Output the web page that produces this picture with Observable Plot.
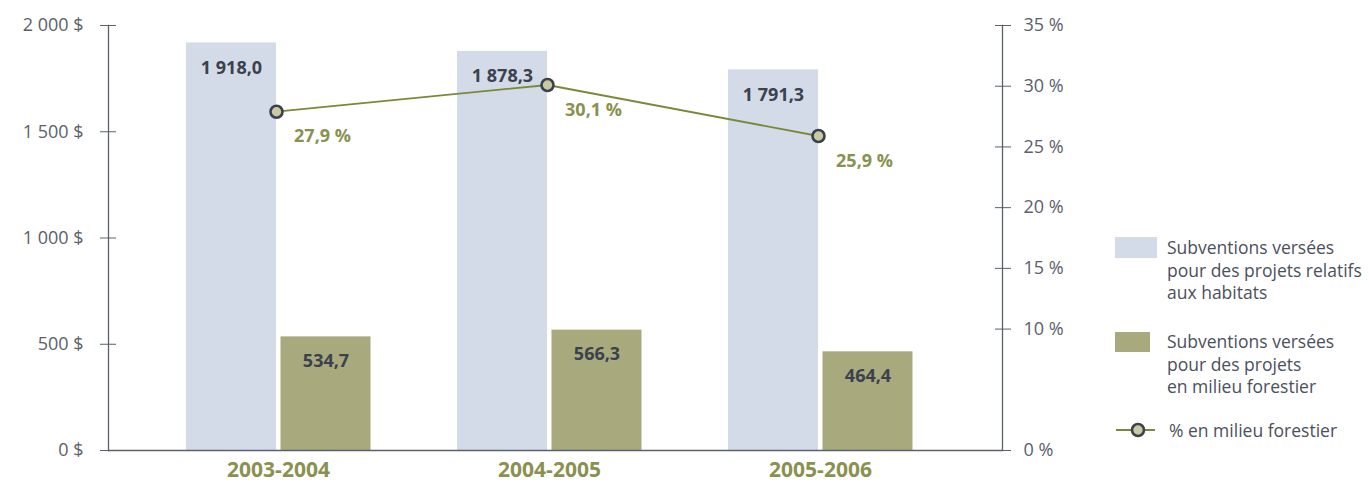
<!DOCTYPE html>
<html>
<head>
<meta charset="utf-8">
<script src="https://cdn.jsdelivr.net/npm/d3@7"></script>
<script src="https://cdn.jsdelivr.net/npm/@observablehq/plot@0.6"></script>
<style>
  body { margin: 0; background: #ffffff; }
  #wrap { position: relative; width: 1369px; height: 484px; font-family: "Open Sans", sans-serif; }
  #legend { position: absolute; left: 1115px; top: 0; color: #4b505c; font-size: 17.5px; line-height: 22.5px; }
  .item { position: absolute; left: 0; white-space: nowrap; }
  .sw { position: absolute; left: 0; }
  .txt { position: absolute; left: 52px; }
</style>
</head>
<body>
<div id="wrap"></div>
<script>
const years = ["2003-2004", "2004-2005", "2005-2006"];
const habitats = [1918.0, 1878.3, 1791.3];
const forestier = [534.7, 566.3, 464.4];
const pctForestier = [27.9, 30.1, 25.9];
const dollarTicks = [0, 500, 1000, 1500, 2000];
const pctTicks = [0, 10, 15, 20, 25, 30, 35];

const blue = "#d3dbe8";
const green = "#a8aa7d";
const olive = "#8a9150";
const lineCol = "#7c8838";
const dark = "#3b414d";
const axisCol = "#5b606b";

const k = 2000 / 35; // map percent axis onto the dollar scale
const data = years.map((y, i) => ({year: y, hab: habitats[i], forest: forestier[i], pct: pctForestier[i]}));

const frFmt = (v, dec) => {
  const s = d3.format(dec ? ",.1f" : ",")(v);
  return s.replace(/,/g, " ").replace(".", ",");
};

const chart = Plot.plot({
  width: 1369,
  height: 484,
  marginLeft: 108,
  marginRight: 367,
  marginTop: 25,
  marginBottom: 34,
  style: {fontFamily: "Open Sans, sans-serif", background: "transparent", overflow: "visible"},
  x: {domain: years, paddingInner: 0.669, paddingOuter: 0.478, align: 0.477, axis: null, label: null},
  y: {domain: [0, 2000], axis: null, label: null},
  marks: [
    Plot.barY(data, {x: "year", y: "hab", fill: blue, dx: -47}),
    Plot.barY(data, {x: "year", y: "forest", fill: green, dx: 47.5}),
    Plot.text(data, {x: "year", y: "hab", text: d => frFmt(d.hab, true), dx: -47, dy: 25, fill: dark, fontWeight: 700, fontSize: 18}),
    Plot.text(data, {x: "year", y: "forest", text: d => frFmt(d.forest, true), dx: 47.5, dy: 24, fill: dark, fontWeight: 700, fontSize: 18}),
    Plot.ruleY([0], {stroke: axisCol, strokeWidth: 1.3}),
    Plot.frame({anchor: "left", stroke: axisCol, strokeWidth: 1.3}),
    Plot.frame({anchor: "right", stroke: axisCol, strokeWidth: 1.3}),
    Plot.axisY(dollarTicks, {anchor: "left", label: null, tickSize: 16, dx: 8, tickPadding: 17, tickFormat: d => frFmt(d) + " $", fontSize: 18, color: axisCol, stroke: axisCol}),
    Plot.axisY(pctTicks.map(p => p * k), {anchor: "right", label: null, tickSize: 16, dx: -8, tickPadding: 13, tickFormat: d => Math.round(d / k) + " %", fontSize: 18, color: axisCol, stroke: axisCol}),
    Plot.axisX(years, {anchor: "bottom", label: null, tickSize: 0, tickPadding: 12, fontSize: 21, fontWeight: 700, letterSpacing: "1.5px", color: olive, fill: olive}),
    Plot.line(data, {x: "year", y: d => d.pct * k, dx: -2, stroke: lineCol, strokeWidth: 1.8}),
    Plot.dot(data, {x: "year", y: d => d.pct * k, dx: -2, r: 6, fill: "#c9caa2", stroke: dark, strokeWidth: 2.6}),
    Plot.text(data, {x: "year", y: d => d.pct * k, text: d => frFmt(d.pct, true) + " %", dx: 44, dy: 25, fill: olive, fontWeight: 700, fontSize: 18})
  ]
});

const wrap = document.getElementById("wrap");
wrap.appendChild(chart);

const legend = document.createElement("div");
legend.id = "legend";
legend.innerHTML = `
  <div class="item" style="top:236px"><div class="sw" style="top:1px;width:42px;height:21px;background:${blue}"></div>
    <div class="txt">Subventions versées<br>pour des projets relatifs<br>aux habitats</div></div>
  <div class="item" style="top:330px"><div class="sw" style="top:2px;width:35px;height:20px;background:${green}"></div>
    <div class="txt">Subventions versées<br>pour des projets<br>en milieu forestier</div></div>
  <div class="item" style="top:419px">
    <svg class="sw" width="44" height="22" style="top:0"><line x1="1" x2="40" y1="11" y2="11" stroke="${lineCol}" stroke-width="1.8"/><circle cx="23" cy="11" r="6" fill="#c9caa2" stroke="${dark}" stroke-width="2.6"/></svg>
    <div class="txt" style="left:54px">% en milieu forestier</div></div>`;
wrap.appendChild(legend);
</script>
</body>
</html>
